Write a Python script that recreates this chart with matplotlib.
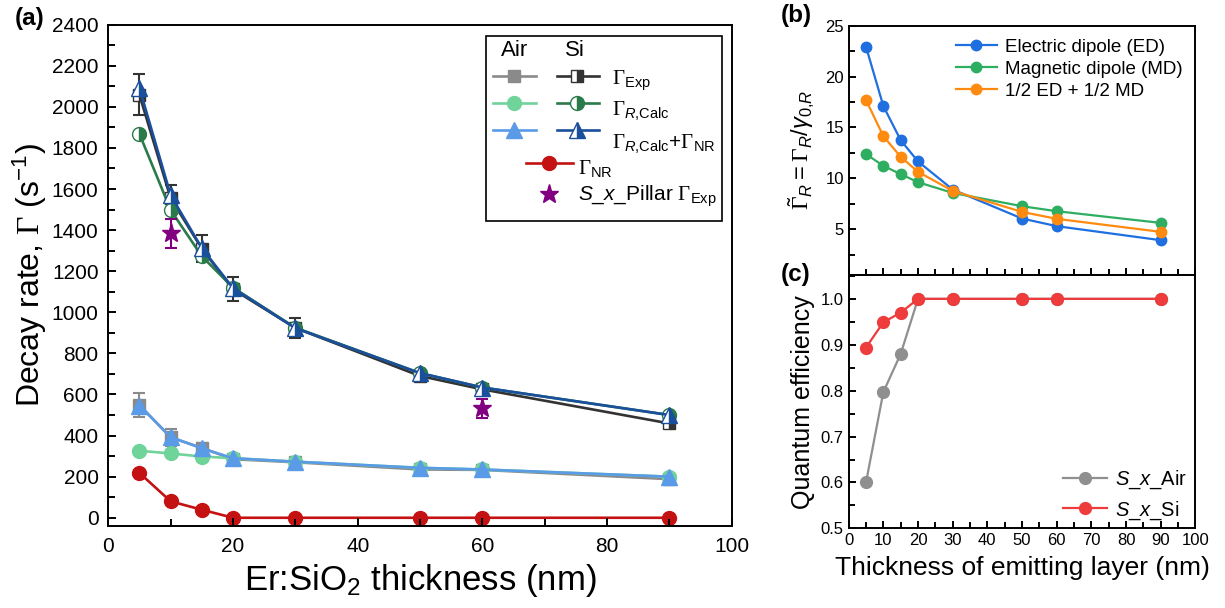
import matplotlib.pyplot as plt
import numpy as np
from matplotlib.lines import Line2D
from matplotlib.patches import Rectangle
from matplotlib.ticker import MultipleLocator

plt.rcParams['font.family'] = ['Liberation Sans', 'DejaVu Sans']
plt.rcParams['mathtext.fontset'] = 'custom'
plt.rcParams['mathtext.rm'] = 'Liberation Sans'
plt.rcParams['mathtext.it'] = 'Liberation Sans:italic'
plt.rcParams['mathtext.bf'] = 'Liberation Sans:bold'
plt.rcParams['mathtext.sf'] = 'Liberation Serif'

# ---- data (a) ----
thick = [5, 10, 15, 20, 30, 50, 60, 90]
air_exp = [549, 391, 340, 285, 270, 235, 233, 188]
air_exp_err = [57, 41, 25, 20, 18, 15, 15, 10]
air_calc = [326, 313, 298, 290, 273, 243, 235, 200]
air_calc_nr = [546, 393, 338, 290, 273, 243, 235, 200]
nr = [218, 80, 39, 0, 0, 0, 0, 0]
si_exp = [2058, 1555, 1310, 1112, 924, 690, 625, 459]
si_exp_err = [100, 65, 65, 58, 48, 25, 22, 15]
si_calc = [1868, 1498, 1273, 1120, 925, 704, 634, 500]
si_calc_nr = [2091, 1570, 1312, 1118, 923, 704, 634, 500]
pillar_x = [10, 60]
pillar_y = [1385, 532]
pillar_err = [70, 47]

# ---- data (b) ----
ed = [22.93, 17.1, 13.75, 11.66, 8.9, 6.05, 5.3, 3.92]
md = [12.38, 11.23, 10.41, 9.62, 8.57, 7.26, 6.77, 5.62]
half = [17.69, 14.15, 12.11, 10.64, 8.77, 6.7, 6.02, 4.74]

# ---- data (c) ----
qe_air = [0.6, 0.797, 0.88, 1.0, 1.0, 1.0, 1.0, 1.0]
qe_si = [0.894, 0.949, 0.97, 1.0, 1.0, 1.0, 1.0, 1.0]

G = r'\mathsf{\Gamma}'

c_gray = '#8a8a8a'
c_dark = '#333333'
c_lgreen = '#6fd39a'
c_dgreen = '#2a7a4a'
c_lblue = '#5a9be8'
c_dblue = '#1a4f9c'
c_red = '#c41212'
c_purple = '#800080'

fig = plt.figure(figsize=(12.25, 6.08), dpi=100)

# ================= panel (a) =================
ax = fig.add_axes([0.0884, 0.1349, 0.509, 0.8245])
ms = 10
ms_sq = 8
ms_tri = 11
lw = 1.9

# errorbar puts its data line at zorder+0.1, so zorders are set by hand
ax.errorbar(thick, air_exp, yerr=air_exp_err, color=c_gray, marker='s', ms=ms_sq, lw=lw,
            capsize=4, capthick=1.5, elinewidth=1.5, zorder=1.0)
ax.plot(thick, air_calc, color=c_lgreen, marker='o', ms=ms, lw=lw, zorder=1.3)
ax.plot(thick, air_calc_nr, color=c_lblue, marker='^', ms=ms_tri, lw=lw, zorder=1.4)
ax.plot(thick, nr, color=c_red, marker='o', ms=ms, lw=lw, zorder=1.5)
ax.errorbar(thick, si_exp, yerr=si_exp_err, color=c_dark, marker='s', ms=ms_sq, lw=lw,
            fillstyle='right', markerfacecoloralt='white', mec=c_dark,
            capsize=4, capthick=1.5, elinewidth=1.5, zorder=1.6)
ax.plot(thick, si_calc, color=c_dgreen, marker='o', ms=ms, lw=lw,
        fillstyle='right', markerfacecoloralt='white', zorder=1.9)
ax.plot(thick, si_calc_nr, color=c_dblue, marker='^', ms=ms_tri, lw=lw,
        fillstyle='right', markerfacecoloralt='white', zorder=2.0)
ax.errorbar(pillar_x, pillar_y, yerr=pillar_err, color=c_purple, marker='*', ms=14,
            ls='none', capsize=4, capthick=1.5, elinewidth=1.5, zorder=2.5)

ax.set_xlim(0, 100)
ax.set_ylim(-40, 2400)
ax.xaxis.set_major_locator(MultipleLocator(20))
ax.xaxis.set_minor_locator(MultipleLocator(10))
ax.yaxis.set_major_locator(MultipleLocator(200))
ax.yaxis.set_minor_locator(MultipleLocator(100))
ax.tick_params(which='both', direction='in', labelsize=15, width=1.4)
ax.tick_params(which='major', length=6)
ax.tick_params(which='minor', length=5)
ax.tick_params(axis='x', pad=8)
ax.tick_params(axis='y', pad=7)
for s in ax.spines.values():
    s.set_linewidth(1.4)
ax.set_xlabel(r'Er:SiO$_2$ thickness (nm)', fontsize=25, labelpad=4)
ax.set_ylabel(r'Decay rate, $' + G + r'$ (s$^{-1}$)', fontsize=23, labelpad=2)

# hand-built legend with Air / Si columns
ax.add_patch(Rectangle((0.6057, 0.609), 0.3783, 0.3685, transform=ax.transAxes,
                       fill=False, ec='black', lw=1.2, zorder=5))
ax.text(0.652, 0.948, 'Air', transform=ax.transAxes, fontsize=16, ha='center', va='center')
ax.text(0.7486, 0.948, 'Si', transform=ax.transAxes, fontsize=16, ha='center', va='center')

rows = [
    (0.8977, 's', ms_sq, c_gray, c_dark, r'$' + G + r'_{\mathrm{Exp}}$', 0.888),
    (0.8432, 'o', ms, c_lgreen, c_dgreen, r'$' + G + r'_{R{,}\mathrm{Calc}}$', 0.828),
    (0.79, '^', ms_tri, c_lblue, c_dblue,
     r'$' + G + r'_{R{,}\mathrm{Calc}}$+$' + G + r'_{\mathrm{NR}}$', 0.762),
]
for y, mk, msz, ca, cs, lab, ly in rows:
    ax.add_artist(Line2D([0.6176, 0.686], [y, y], transform=ax.transAxes, color=ca, lw=lw))
    ax.add_artist(Line2D([0.6513], [y], transform=ax.transAxes, color=ca, marker=mk, ms=msz))
    ax.add_artist(Line2D([0.7193, 0.7876], [y, y], transform=ax.transAxes, color=cs, lw=lw))
    ax.add_artist(Line2D([0.7523], [y], transform=ax.transAxes, color=cs, marker=mk, ms=msz,
                         fillstyle='right', markerfacecoloralt='white'))
    ax.text(0.8075, ly, lab, transform=ax.transAxes, fontsize=15, ha='left', va='center')

ax.add_artist(Line2D([0.670, 0.745], [0.7235, 0.7235], transform=ax.transAxes, color=c_red, lw=lw))
ax.add_artist(Line2D([0.7074], [0.7235], transform=ax.transAxes, color=c_red, marker='o', ms=ms))
ax.text(0.754, 0.712, r'$' + G + r'_{\mathrm{NR}}$', transform=ax.transAxes, fontsize=15,
        ha='left', va='center')
ax.add_artist(Line2D([0.7074], [0.6623], transform=ax.transAxes, color=c_purple, marker='*', ms=14))
ax.text(0.754, 0.657, r'$S$_$x$_Pillar $' + G + r'_{\mathrm{Exp}}$', transform=ax.transAxes,
        fontsize=15, ha='left', va='center')

# ================= panel (b) =================
axb = fig.add_axes([0.6928, 0.5477, 0.283, 0.41])
axb.plot(thick, ed, color='#1f6fe0', marker='o', ms=7.5, lw=1.6, label='Electric dipole (ED)')
axb.plot(thick, md, color='#2fae62', marker='o', ms=7.5, lw=1.6, label='Magnetic dipole (MD)')
axb.plot(thick, half, color='#ff8a10', marker='o', ms=7.5, lw=1.6, label='1/2 ED + 1/2 MD')
axb.set_xlim(0, 100)
axb.set_ylim(0.5, 25)
axb.xaxis.set_major_locator(MultipleLocator(10))
axb.xaxis.set_minor_locator(MultipleLocator(5))
axb.yaxis.set_major_locator(MultipleLocator(5))
axb.yaxis.set_minor_locator(MultipleLocator(2.5))
axb.tick_params(which='both', direction='in', labelsize=12, width=1.4)
axb.tick_params(which='major', length=5)
axb.tick_params(which='minor', length=4)
axb.tick_params(axis='x', labelbottom=False)
for s in axb.spines.values():
    s.set_linewidth(1.4)
axb.set_ylabel(r'$\tilde{' + G + r'}_R = ' + G + r'_R/\gamma_{0{,}R}$', fontsize=17, labelpad=6)
axb.legend(loc='upper right', fontsize=13.5, frameon=False, handlelength=2.2,
           handletextpad=0.4, labelspacing=0.25, borderaxespad=0.3)

# ================= panel (c) =================
axc = fig.add_axes([0.6928, 0.131, 0.283, 0.4167])
axc.plot(thick, qe_air, color='#8f8f8f', marker='o', ms=8.5, lw=1.6, label=r'$S$_$x$_Air')
axc.plot(thick, qe_si, color='#ee3b3b', marker='o', ms=8.5, lw=1.6, label=r'$S$_$x$_Si')
axc.set_xlim(0, 100)
axc.set_ylim(0.5, 1.052)
axc.xaxis.set_major_locator(MultipleLocator(10))
axc.xaxis.set_minor_locator(MultipleLocator(5))
axc.yaxis.set_major_locator(MultipleLocator(0.1))
axc.yaxis.set_minor_locator(MultipleLocator(0.05))
axc.tick_params(which='both', direction='in', labelsize=12, width=1.4)
axc.tick_params(which='major', length=5)
axc.tick_params(which='minor', length=4)
axc.tick_params(axis='x', pad=3)
for s in axc.spines.values():
    s.set_linewidth(1.4)
axc.set_xlabel('Thickness of emitting layer (nm)', fontsize=19, labelpad=6)
axc.set_ylabel('Quantum efficiency', fontsize=18, labelpad=4)
axc.legend(loc='lower right', bbox_to_anchor=(1.0, -0.005), fontsize=14.5, frameon=False,
           handlelength=2.2, handletextpad=0.4, labelspacing=0.4, borderaxespad=0.0)

# panel letters
fig.text(0.012, 0.97, '(a)', fontsize=17.5, fontweight='bold', va='center', ha='left')
fig.text(0.637, 0.975, '(b)', fontsize=17.5, fontweight='bold', va='center', ha='left')
fig.text(0.637, 0.548, '(c)', fontsize=17.5, fontweight='bold', va='center', ha='left')

fig.savefig('out.png', dpi=100)
